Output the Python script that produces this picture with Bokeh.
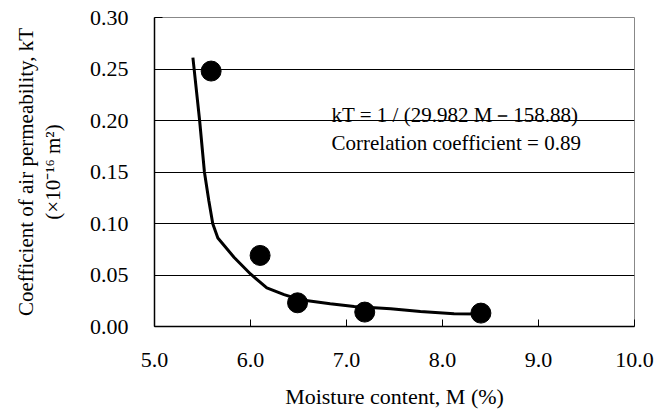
import math
from bokeh.plotting import figure
from bokeh.models import Range1d, NumeralTickFormatter, FixedTicker, Title, ColumnDataSource
from bokeh.core.properties import value
from bokeh.embed import file_html
from bokeh.resources import INLINE

# measured points
pts_m = [5.59, 6.10, 6.49, 7.19, 8.40]
pts_kt = [0.248, 0.069, 0.023, 0.014, 0.013]

# fitted curve as drawn
curve_m = [5.40, 5.47, 5.52, 5.566, 5.607, 5.66, 5.83, 6.00, 6.17, 6.35, 6.52, 6.83, 7.08, 7.46, 7.77, 8.12, 8.40]
curve_kt = [0.261, 0.200, 0.150, 0.122, 0.0997, 0.086, 0.067, 0.051, 0.0375, 0.031, 0.026, 0.022, 0.0194, 0.0172, 0.0146, 0.0123, 0.0122]

x_ticks = [5.0, 6.0, 7.0, 8.0, 9.0, 10.0]
y_ticks = [0.00, 0.05, 0.10, 0.15, 0.20, 0.25, 0.30]

annot_text = ["kT = 1 / (29.982 M－158.88)", "Correlation coefficient = 0.89"]
annot_x = [6.844, 6.844]
annot_y = [0.2058, 0.1777]

FONT = "'Liberation Serif', serif"

p = figure(width=655, height=418, output_backend="svg", toolbar_location=None,
           x_range=Range1d(5.0, 10.0), y_range=Range1d(0.0, 0.30),
           min_border_left=154, min_border_right=21, min_border_top=17, min_border_bottom=92)

p.background_fill_color = "white"
p.border_fill_color = "white"
p.outline_line_color = "#888888"
p.outline_line_width = 1

p.xgrid.visible = False
p.ygrid.ticker = FixedTicker(ticks=y_ticks)
p.ygrid.grid_line_color = "black"
p.ygrid.grid_line_width = 1

for ax in (p.xaxis[0], p.yaxis[0]):
    ax.axis_line_color = "black"
    ax.axis_line_width = 1.5
    ax.major_tick_line_color = "black"
    ax.major_tick_out = 0
    ax.minor_tick_line_color = None
    ax.major_label_text_font = FONT
    ax.major_label_text_font_size = "22px"
    ax.major_label_text_color = "black"
    ax.major_label_text_font_style = "normal"
    ax.axis_label_text_font = FONT
    ax.axis_label_text_font_size = "22px"
    ax.axis_label_text_font_style = "normal"
    ax.axis_label_text_color = "black"

p.xaxis[0].ticker = FixedTicker(ticks=x_ticks)
p.xaxis[0].formatter = NumeralTickFormatter(format="0.0")
p.xaxis[0].major_tick_in = 7
p.xaxis[0].major_label_standoff = 26
p.xaxis[0].axis_label = "Moisture content, M (%)"
p.xaxis[0].axis_label_standoff = 14

p.yaxis[0].ticker = FixedTicker(ticks=y_ticks)
p.yaxis[0].formatter = NumeralTickFormatter(format="0.00")
p.yaxis[0].major_tick_in = 8
p.yaxis[0].major_label_standoff = 26
p.yaxis[0].axis_label = "(×10⁻¹⁶ m²)"
p.yaxis[0].axis_label_standoff = 22
p.yaxis[0].axis_label_text_font_size = "21px"

p.add_layout(Title(text="Coefficient of air permeability, kT", align="center",
                   text_font=FONT, text_font_size="21px", text_font_style="normal",
                   text_color="black", standoff=0), "left")

p.line(curve_m, curve_kt, line_color="black", line_width=3)
p.scatter(pts_m, pts_kt, size=20, marker="circle", fill_color="black", line_color="black")

src = ColumnDataSource(dict(x=annot_x, y=annot_y, t=annot_text))
p.text(x="x", y="y", text="t", source=src, text_font=value(FONT),
       text_font_size="21px", text_baseline="alphabetic", text_align="left",
       text_color="black")

open("out.html", "w").write(file_html(p, INLINE))
